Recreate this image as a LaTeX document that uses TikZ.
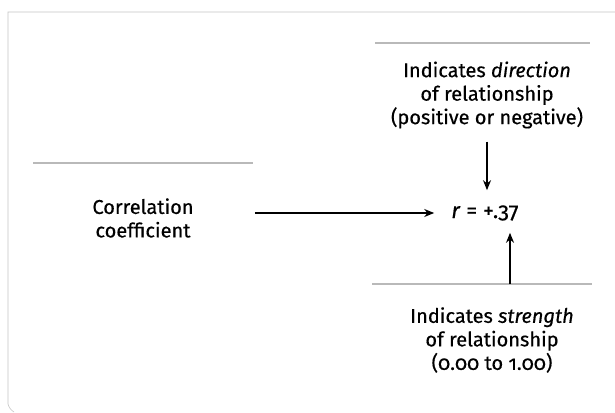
\documentclass[tikz,border=0pt]{standalone}
\usepackage{fontspec}
\setmainfont{Fira Sans}[Numbers=OldStyle, FakeBold=0.5]
\usepackage{tikz}
\usetikzlibrary{arrows.meta, positioning, calc}

\begin{document}
\begin{tikzpicture}[x=1pt, y=-1pt,
  lbl/.style={font=\fontsize{20}{23.5}\selectfont, inner sep=3pt, align=center},
  bar/.style={draw=gray!55, line width=2.4pt},
  frame/.style={draw=gray!45, line width=0.6pt},
  >={Stealth[length=10pt, width=8pt]}]
\useasboundingbox[fill=white] (0,0) rectangle (615,412);
% scanned page edge
\draw[frame] (615,12) -- (8,12) -- (8,404) to[bend right=20] (14,412);
% grey rules over the labels
\draw[bar] (375,43) -- (590,43);
\draw[bar] (33,163) -- (253,163);
\draw[bar] (372,284) -- (592,284);
\node[lbl] (dir)  at (487,95)  {Indicates \textit{direction}\\of relationship\\(positive or negative)};
\node[lbl] (corr) at (143,218) {Correlation\\coefficient};
\node[lbl, font=\fontsize{22}{26}\selectfont] (r) at (485,213) {\textit{r} = +.37};
\node[lbl] (str)  at (492,340) {Indicates \textit{strength}\\of relationship\\(0.00 to 1.00)};
\coordinate (sfoot) at (510,284);
\draw[->, line width=1.6pt, shorten <=58pt, shorten >=14pt] (corr.east |- r) -- (r);
\draw[->, line width=1.6pt, shorten <=10pt, shorten >=12pt] (dir) -- (dir |- r.north);
\draw[->, line width=1.6pt, shorten >=9pt] (sfoot) -- (sfoot |- r.south);
\end{tikzpicture}
\end{document}
